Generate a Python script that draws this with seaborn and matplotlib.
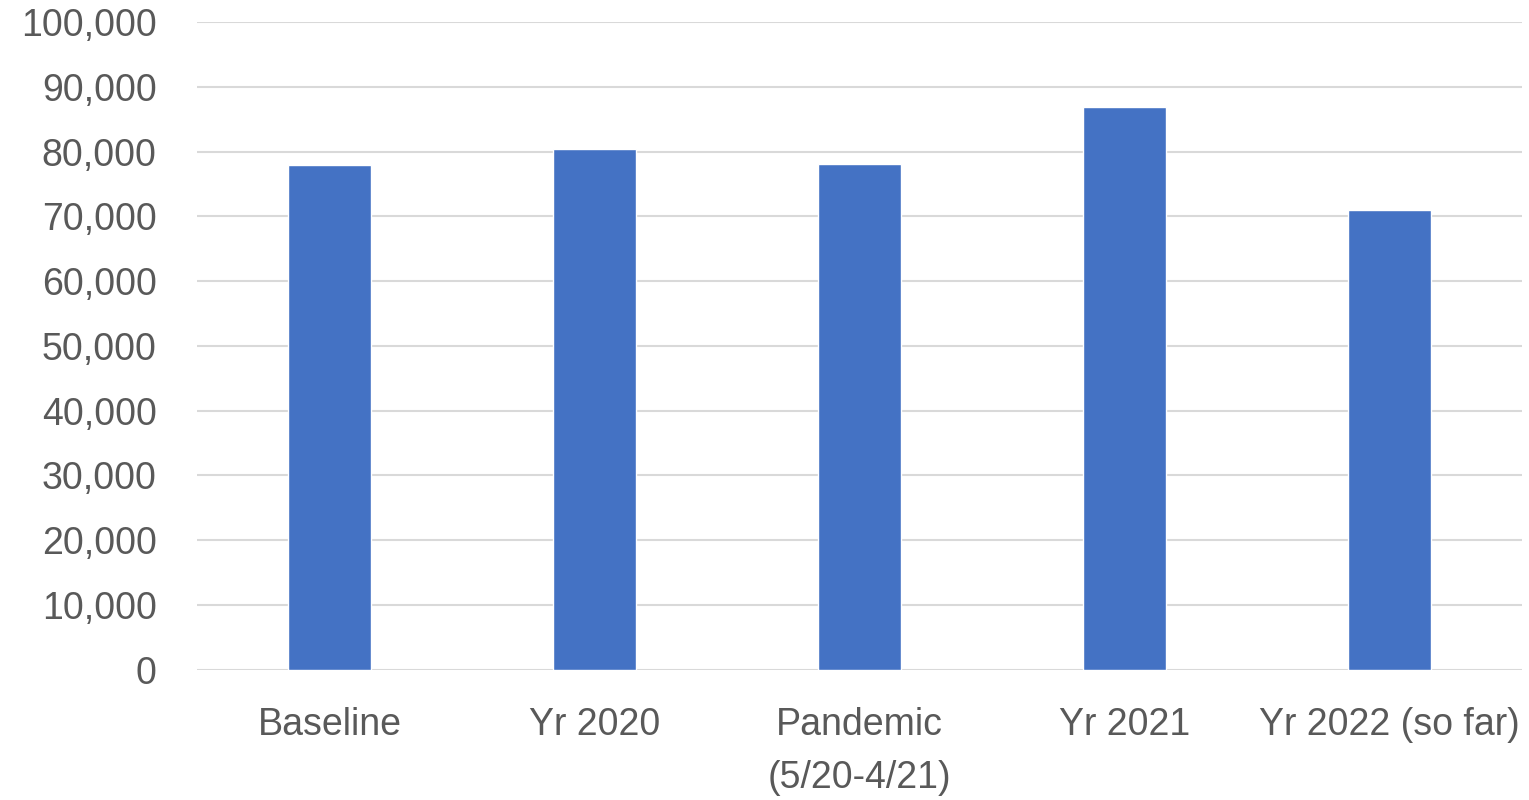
import matplotlib
matplotlib.use("Agg")
import matplotlib.pyplot as plt
import seaborn as sns
import pandas as pd
from matplotlib.ticker import FuncFormatter, MultipleLocator

categories = ["Baseline", "Yr 2020", "Pandemic\n(5/20-4/21)", "Yr 2021", "Yr 2022 (so far)"]
values = [77900, 80400, 78100, 86800, 71000]

df = pd.DataFrame({"category": categories, "value": values})

sns.set_theme(style="white")
plt.rcParams['font.family'] = ['Liberation Sans', 'DejaVu Sans']

fig = plt.figure(figsize=(15.29, 8.0), dpi=100)
ax = fig.add_axes([0.1288, 0.163, 0.9954 - 0.1288, 0.9725 - 0.163])

sns.barplot(data=df, x="category", y="value", color="#4472C4", width=0.31,
            saturation=1, ax=ax, zorder=3)

ax.set_ylim(0, 100000)
ax.yaxis.set_major_locator(MultipleLocator(10000))
ax.yaxis.set_major_formatter(FuncFormatter(lambda v, p: f"{int(v):,}"))
ax.grid(axis="y", color="#d9d9d9", linewidth=1.5, zorder=0)
ax.set_axisbelow(True)
for s in ax.spines.values():
    s.set_visible(False)
ax.set_xlabel("")
ax.set_ylabel("")
ax.tick_params(axis="both", length=0, labelsize=27, colors="#595959")
ax.tick_params(axis="y", pad=29)
ax.tick_params(axis="x", pad=27)
for lbl in ax.get_xticklabels():
    lbl.set_linespacing(1.6)
ax.set_xlim(-0.5, 4.5)

fig.savefig("out.png", dpi=100)
